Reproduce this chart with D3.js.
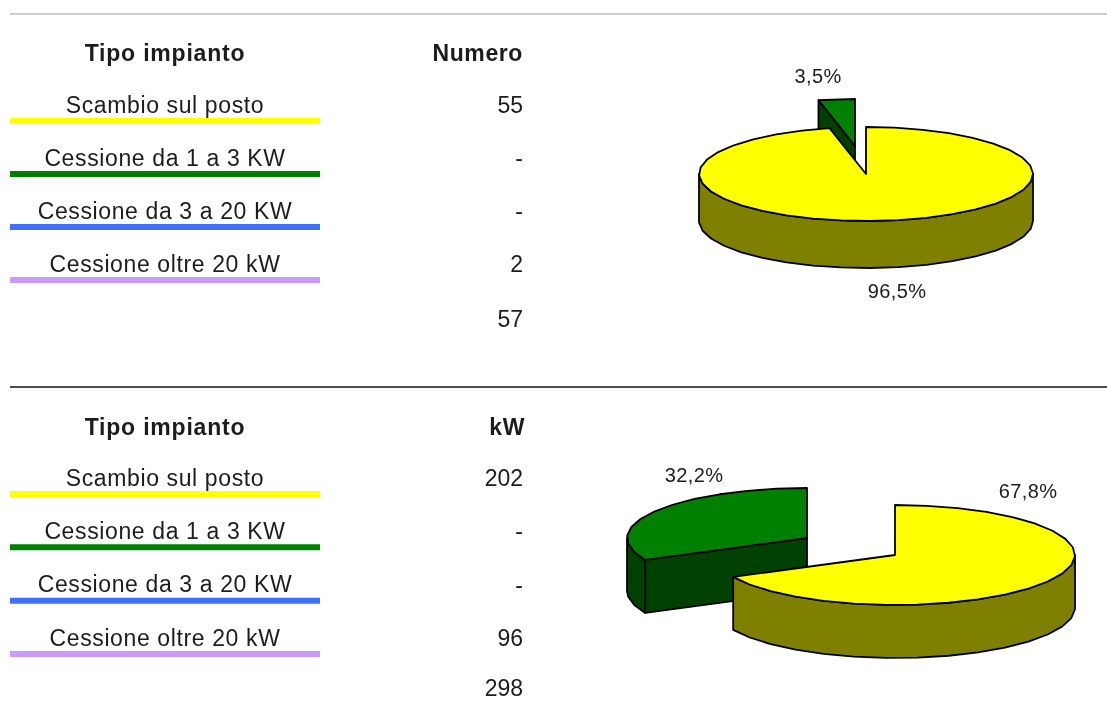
<!DOCTYPE html>
<html><head><meta charset="utf-8">
<script src="https://cdn.jsdelivr.net/npm/d3@7"></script>
<style>html,body{margin:0;background:#fff}svg{display:block;filter:blur(.45px)}text{font-family:"Liberation Sans",Arial,sans-serif;fill:#1c1c1c}</style>
</head><body><svg id="c" width="1107" height="701"></svg>
<script>
const categories = ["Scambio sul posto","Cessione da 1 a 3 KW","Cessione da 3 a 20 KW","Cessione oltre 20 kW"];
const numero = [55,null,null,2];
const numeroTotal = 57;
const kw = [202,null,null,96];
const kwTotal = 298;
const lineColors = ["#ffff00","#008000","#3f6fff","#cc99ff"];
const sliceTop = ["#ffff00","#008000"];
const sliceSide = ["#808000","#004000"];

const svg = d3.select("#c");
const pct = d3.formatLocale({decimal:",",thousands:".",grouping:[3],currency:["","€"]}).format(".1%");
const tau = Math.PI*2;

function table(o){
  const y = d3.scalePoint().domain(categories).range(o.rowRange);
  svg.append("text").attr("x",165).attr("y",o.headY).attr("text-anchor","middle").attr("font-weight","bold").attr("font-size",23).attr("letter-spacing",.8).text("Tipo impianto");
  svg.append("text").attr("x",o.headX).attr("y",o.headY).attr("text-anchor","end").attr("font-weight","bold").attr("font-size",23).attr("letter-spacing",.6).text(o.head);
  const g = svg.append("g").selectAll("g").data(categories).join("g");
  g.append("line").attr("x1",10).attr("x2",320).attr("y1",d=>y(d)+16).attr("y2",d=>y(d)+16).attr("stroke-width",6).attr("stroke",(d,i)=>lineColors[i]);
  g.append("text").attr("x",165).attr("y",d=>y(d)+7.5).attr("text-anchor","middle").attr("font-size",23).attr("letter-spacing",.62).text(d=>d);
  g.append("text").attr("x",523).attr("y",d=>y(d)+8).attr("text-anchor","end").attr("font-size",23).text((d,i)=>o.vals[i]==null?"-":o.vals[i]);
  svg.append("text").attr("x",523).attr("y",o.totalY).attr("text-anchor","end").attr("font-size",23).text(o.total);
}

function pie3d(o){
  const vals = o.vals.filter(v=>v!=null), total = d3.sum(vals);
  const arcs = d3.pie().sort(null)(vals);
  const line = d3.line();
  const rx = d3.scaleLinear().domain([0,1]).range([0,o.rx]);
  const ry = d3.scaleLinear().domain([0,1]).range([0,o.ry]);
  const pt = (a,c,dz=0)=>[c[0]+rx(Math.sin(a)),c[1]-ry(Math.cos(a))+dz];
  const step = tau/36;
  const grid = (a0,a1)=>{
    const n = Math.max(1,Math.round((a1-a0)/step));
    return d3.range(0,n+1).map(k=>a0+(a1-a0)*k/n);
  };
  const stroke = s=>s.attr("stroke","#000").attr("stroke-width",1.8).attr("stroke-linejoin","round");
  [1,0].forEach(i=>{
    const a = arcs[i], c = o.centers[i];
    const angles = grid(a.startAngle,a.endAngle);
    const lo = Math.max(a.startAngle,tau/4), hi = Math.min(a.endAngle,tau*3/4);
    const g = svg.append("g");
    if(i===1){
      const e = pt(a.startAngle,c);
      g.append("path").attr("d",line([c,e,[e[0],e[1]+o.depth],[c[0],c[1]+o.depth]])+"Z").attr("fill",sliceSide[i]).call(stroke);
    }
    if(hi>lo){
      const wall = [lo,...angles.filter(t=>t>lo&&t<hi),hi];
      const top = wall.map(t=>pt(t,c));
      const bot = wall.slice().reverse().map(t=>pt(t,c,o.depth));
      g.append("path").attr("d",line(top.concat(bot))+"Z").attr("fill",sliceSide[i]).call(stroke);
    }
    const face = [c].concat(angles.map(t=>pt(t,c)));
    g.append("path").attr("d",line(face)+"Z").attr("fill",sliceTop[i]).call(stroke);
    svg.append("text").attr("x",o.labels[i][0]).attr("y",o.labels[i][1]).attr("text-anchor","middle").attr("font-size",20).attr("letter-spacing",.4).text(pct(a.value/total));
  });
}

svg.append("line").attr("x1",10).attr("x2",1107).attr("y1",14).attr("y2",14).attr("stroke","#bdbdbd").attr("stroke-width",1.5);
svg.append("line").attr("x1",10).attr("x2",1107).attr("y1",387).attr("y2",387).attr("stroke","#111").attr("stroke-width",1.6);

table({head:"Numero",headX:523,vals:numero,total:numeroTotal,totalY:327,headY:60.5,rowRange:[105,264]});
table({head:"kW",headX:525,vals:kw,total:kwTotal,totalY:695.5,headY:434.5,rowRange:[478,638]});

pie3d({vals:numero,rx:167,ry:47,depth:47,centers:[[866,174],[855,146]],labels:[[897,298],[818,83]]});
pie3d({vals:kw,rx:180,ry:50,depth:53,centers:[[895,555],[807,538]],labels:[[1028,498],[694,482]]});
</script></body></html>
